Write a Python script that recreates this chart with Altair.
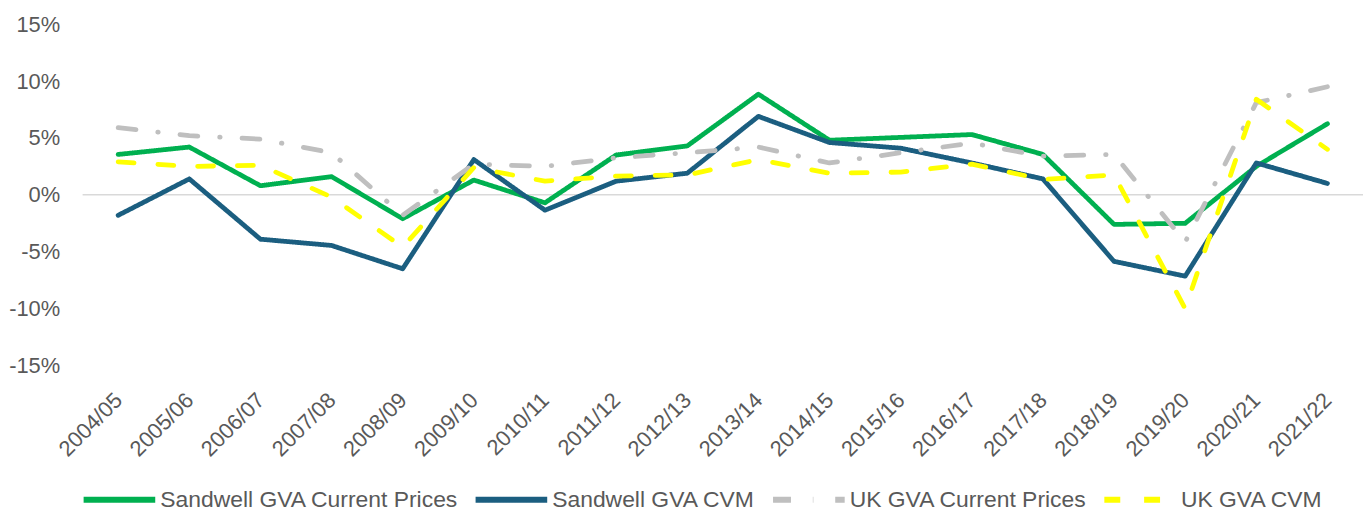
import altair as alt
import pandas as pd

categories = ["2004/05", "2005/06", "2006/07", "2007/08", "2008/09", "2009/10",
              "2010/11", "2011/12", "2012/13", "2013/14", "2014/15", "2015/16",
              "2016/17", "2017/18", "2018/19", "2019/20", "2020/21", "2021/22"]

series_names = ["Sandwell GVA Current Prices", "Sandwell GVA CVM",
                "UK GVA Current Prices", "UK GVA CVM"]

sandwell_cp = [3.55, 4.2, 0.8, 1.6, -2.1, 1.3, -0.7, 3.5, 4.3, 8.85, 4.8, 5.05,
               5.3, 3.55, -2.6, -2.5, 2.5, 6.25]
sandwell_cvm = [-1.8, 1.4, -3.9, -4.45, -6.5, 3.1, -1.35, 1.2, 1.9, 6.9, 4.6, 4.1,
                2.8, 1.4, -5.85, -7.15, 2.8, 1.0]
uk_cp = [5.9, 5.2, 4.9, 3.7, -1.8, 2.7, 2.5, 3.25, 3.7, 4.2, 2.8, 3.7,
         4.55, 3.4, 3.55, -4.15, 8.1, 9.5]
uk_cvm = [2.9, 2.5, 2.6, -0.2, -4.6, 2.4, 1.2, 1.65, 1.75, 3.1, 1.9, 2.0,
          2.7, 1.35, 1.75, -10.0, 8.4, 4.0]

y_ticks = [-15, -10, -5, 0, 5, 10, 15]

colors = ["#00B050", "#1B5E80", "#BFBFBF", "#FFFF00"]
dashes = [[1, 0], [1, 0], [18, 22, 0.5, 22], [16, 24]]

rows = []
for name, vals in zip(series_names, [sandwell_cp, sandwell_cvm, uk_cp, uk_cvm]):
    for i, (c, v) in enumerate(zip(categories, vals)):
        rows.append({"year": c, "series": name, "value": v, "idx": i})
df = pd.DataFrame(rows)

FONT = "Liberation Sans"
GREY = "#595959"

x_enc = alt.X("year:O", sort=categories, scale=alt.Scale(padding=0.5),
              axis=alt.Axis(title=None, labelAngle=-45, labelAlign="right",
                            labelBaseline="middle", labelPadding=31, ticks=False,
                            domain=False, labelFontSize=22, labelColor=GREY,
                            labelFont=FONT, grid=False))

legend_kw = dict(title=None, orient="none", direction="horizontal",
                 legendX=-2, legendY=439, symbolType="stroke",
                 symbolSize=5184, symbolStrokeWidth=6,
                 labelFontSize=23, labelColor=GREY, labelFont=FONT,
                 columnPadding=5, labelOffset=2, padding=0, labelLimit=400)

zero = alt.Chart(pd.DataFrame({"z": [0]})).mark_rule(
    color="#D9D9D9", strokeWidth=1.5).encode(y=alt.Y("z:Q"))

lines = alt.Chart(df).mark_line(strokeWidth=4.8, strokeCap="round",
                                strokeJoin="round").encode(
    x=x_enc,
    y=alt.Y("value:Q", scale=alt.Scale(domain=[-15, 15], nice=False),
            axis=alt.Axis(title=None, values=y_ticks, labelExpr="datum.value + '%'",
                          grid=False, ticks=False, domain=False, labelPadding=23,
                          labelFontSize=22, labelColor=GREY, labelFont=FONT)),
    color=alt.Color("series:N", scale=alt.Scale(domain=series_names, range=colors),
                    legend=alt.Legend(**legend_kw)),
    strokeDash=alt.StrokeDash("series:N", scale=alt.Scale(domain=series_names, range=dashes),
                              legend=alt.Legend(**legend_kw)),
    order=alt.Order("idx:Q"),
)

chart = alt.layer(zero, lines).properties(
    width=1287, height=343,
    autosize=alt.AutoSizeParams(type="none"),
    padding={"left": 75, "top": 15, "right": 0, "bottom": 145},
).configure(background="white").configure_view(stroke=None)

chart.save("out.html", embed_options={"renderer": "svg", "actions": False})
